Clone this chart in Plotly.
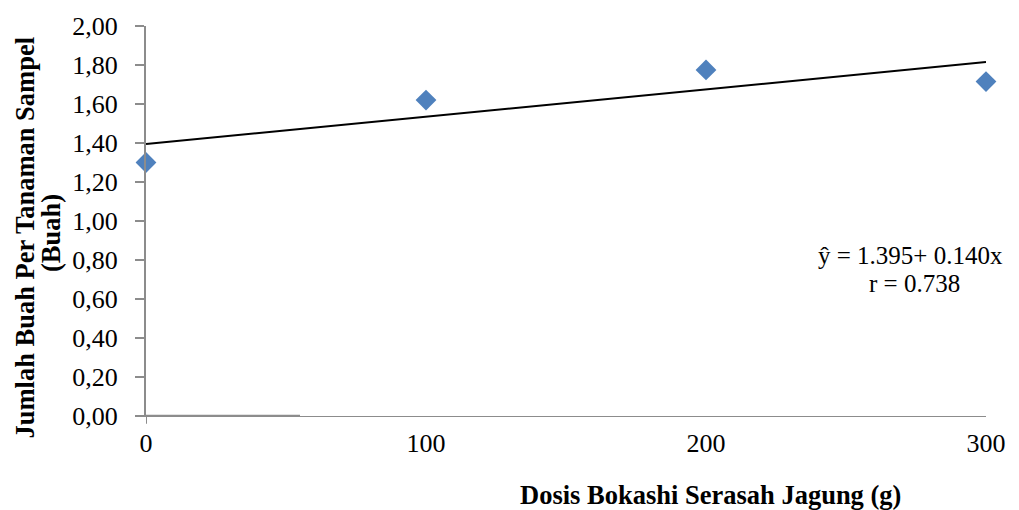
import plotly.graph_objects as go

dosis = [0, 100, 200, 300]
jumlah_buah = [1.30, 1.62, 1.775, 1.715]
intercept = 1.395
slope = 0.140
y_ticks = [0.0, 0.2, 0.4, 0.6, 0.8, 1.0, 1.2, 1.4, 1.6, 1.8, 2.0]
y_tick_labels = ["0,00", "0,20", "0,40", "0,60", "0,80", "1,00", "1,20", "1,40", "1,60", "1,80", "2,00"]
x_tick_labels = ["0", "100", "200", "300"]

trend_x = [dosis[0], dosis[-1]]
trend_y = [intercept + slope * (v / 100) for v in trend_x]

FONT = "Liberation Serif, Times New Roman, serif"

fig = go.Figure()
fig.add_trace(go.Scatter(
    x=trend_x, y=trend_y, mode="lines",
    line=dict(color="black", width=2), showlegend=False, hoverinfo="skip"))
fig.add_trace(go.Scatter(
    x=dosis, y=jumlah_buah, mode="markers",
    marker=dict(symbol="diamond", size=16, color="#4F81BD"),
    showlegend=False, cliponaxis=False))

fig.update_layout(
    width=1019, height=510,
    margin=dict(l=146, r=33, t=26, b=94),
    paper_bgcolor="white", plot_bgcolor="white",
    font=dict(family=FONT, color="black"),
    xaxis=dict(
        range=[0, 300], tickvals=dosis, ticktext=x_tick_labels,
        showgrid=False, zeroline=False, showline=True, linecolor="#8c8c8c", linewidth=1,
        ticks="", tickfont=dict(size=26, family=FONT), ticklabelstandoff=4),
    yaxis=dict(
        range=[0, 2.0], tickvals=y_ticks, ticktext=y_tick_labels,
        showgrid=False, zeroline=False, showline=True, linecolor="#8c8c8c", linewidth=2,
        ticks="outside", ticklen=9, tickwidth=2, tickcolor="#8c8c8c",
        tickfont=dict(size=26, family=FONT), ticklabelstandoff=12),
    annotations=[
        dict(text="<b>Jumlah Buah Per Tanaman Sampel</b>", textangle=-90,
             xref="paper", yref="paper", x=(24 - 146) / 840, y=(416 - 237.5) / 390,
             xanchor="center", yanchor="middle",
             showarrow=False, font=dict(size=26.5, family=FONT)),
        dict(text="<b>(Buah)</b>", textangle=-90,
             xref="paper", yref="paper", x=(51 - 146) / 840, y=(416 - 233) / 390,
             xanchor="center", yanchor="middle",
             showarrow=False, font=dict(size=26.5, family=FONT)),
        dict(text="<b>Dosis Bokashi Serasah Jagung (g)</b>",
             xref="x", yref="paper", x=201.5, y=-0.203, xanchor="center", yanchor="middle",
             showarrow=False, font=dict(size=26.5, family=FONT)),
        dict(text="ŷ = 1.395+ 0.140x", align="center",
             xref="x", yref="y", x=273, y=(416 - 255) / 195, xanchor="center", yanchor="middle",
             showarrow=False, font=dict(size=25, family=FONT)),
        dict(text="r = 0.738", align="center",
             xref="x", yref="y", x=274.5, y=(416 - 283) / 195, xanchor="center", yanchor="middle",
             showarrow=False, font=dict(size=25, family=FONT)),
    ],
    shapes=[
        dict(type="line", xref="x", yref="y", x0=0, x1=55, y0=0, y1=0,
             line=dict(color="#8c8c8c", width=2.5)),
        dict(type="line", xref="x", yref="paper", x0=0, x1=0, y0=0, y1=-0.02,
             line=dict(color="#8c8c8c", width=2)),
    ],
)

fig.write_html("out.html", config={"displayModeBar": False},
               post_script="document.body.style.margin='0';")
